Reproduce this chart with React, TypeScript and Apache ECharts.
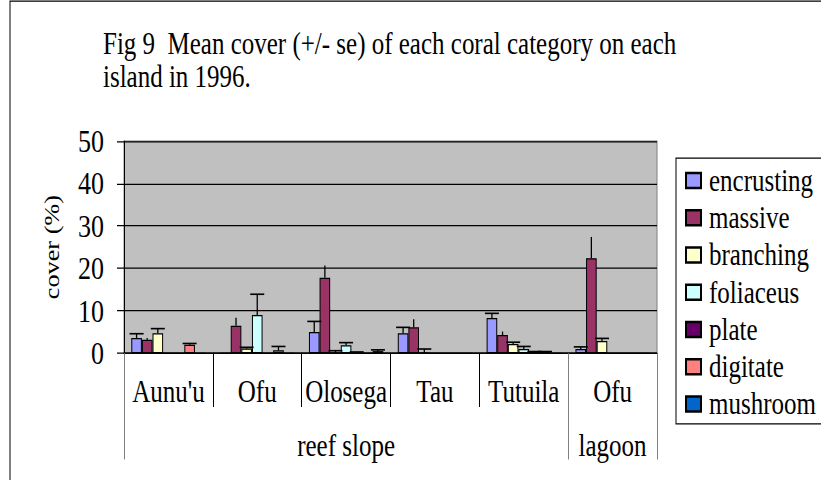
import React, { useEffect, useRef } from "react";
import * as echarts from "echarts";

const islands = ["Aunu'u", "Ofu", "Olosega", "Tau", "Tutuila", "Ofu"];
const groupNames = ["reef slope", "lagoon"];
const groupSizes = [5, 1];
const yTicks = [0, 10, 20, 30, 40, 50];

const categoryNames = ["encrusting", "massive", "branching", "foliaceus", "plate", "digitate", "mushroom"];
const categoryColors = ["#9999FF", "#993366", "#FFFFCC", "#CCFFFF", "#660066", "#FF8080", "#0066CC"];

const encrusting = [3.6, 0, 5.0, 4.7, 8.3, 1.0];
const massive = [3.2, 6.45, 17.8, 6.1, 4.3, 22.4];
const branching = [4.7, 1.1, 0.2, 0.2, 2.2, 2.9];
const foliaceus = [0, 9.0, 1.9, 0, 1.0, 0];
const plate = [0, 0, 0.2, 0, 0.3, 0];
const digitate = [2.0, 0.7, 0, 0, 0.3, 0];
const mushroom = [0, 0, 0.5, 0, 0, 0];

const encrustingSe = [1.0, 0, 2.5, 1.4, 1.1, 0.5];
const massiveSe = [0.4, 1.9, 2.9, 1.9, 0.8, 5.0];
const branchingSe = [1.1, 0.3, 0.4, 0.8, 0.4, 0.6];
const foliaceusSe = [0, 4.9, 0.6, 0, 0.6, 0];
const plateSe = [0, 0, 0.1, 0, 0.1, 0];
const digitateSe = [0.3, 0.9, 0, 0, 0.1, 0];
const mushroomSe = [0, 0, 0.3, 0, 0, 0];

const values = [encrusting, massive, branching, foliaceus, plate, digitate, mushroom];
const errors = [encrustingSe, massiveSe, branchingSe, foliaceusSe, plateSe, digitateSe, mushroomSe];

const SY = 1.25;
const FONT = "'Liberation Serif', 'Times New Roman', serif";
const CAT_GAP = 0.164;

export default function App() {
  const ref = useRef<HTMLDivElement>(null);
  useEffect(() => {
    if (!ref.current) return;
    const chart = echarts.init(ref.current, null, { renderer: "svg" });

    const bounds: number[] = [0];
    groupSizes.forEach((s) => bounds.push(bounds[bounds.length - 1] + s));
    const centers = groupSizes.map((s, i) => bounds[i] + s / 2);

    const errData: number[][] = [];
    values.forEach((arr, si) => {
      arr.forEach((v, ci) => {
        const e = errors[si][ci];
        if (e > 0) errData.push([ci, v, e, si]);
      });
    });

    const barSeries = categoryNames.map((name, si) => ({
      name,
      type: "bar",
      xAxisIndex: 0,
      data: values[si],
      barGap: "0%",
      barCategoryGap: CAT_GAP * 100 + "%",
      itemStyle: { color: categoryColors[si], borderColor: "#000", borderWidth: 1 },
      emphasis: { disabled: true },
    }));

    const option: any = {
      animation: false,
      textStyle: { fontFamily: FONT, color: "#000" },
      title: {
        text: "Fig 9  Mean cover (+/- se) of each coral category on each\nisland in 1996.",
        left: 103,
        top: 21.5,
        padding: 0,
        textStyle: { fontFamily: FONT, fontSize: 25, fontWeight: "normal", color: "#000", lineHeight: 26.4 },
      },
      graphic: [
        {
          type: "rect",
          shape: { x: 10, y: 0.8, width: 900, height: 500 },
          style: { fill: "none", stroke: "#000", lineWidth: 1 },
          silent: true,
          z: -10,
        },
      ],
      legend: {
        orient: "vertical",
        left: 676,
        top: 126.4,
        data: categoryNames,
        icon: "rect",
        itemWidth: 15,
        itemHeight: 12,
        itemGap: 0,
        padding: [3, 14, 1, 9],
        borderColor: "#000",
        borderWidth: 1,
        selectedMode: false,
        textStyle: { fontFamily: FONT, fontSize: 25, fontWeight: "normal", color: "#000", lineHeight: 29.8, padding: [0, 0, 0, 3] },
      },
      grid: {
        left: 124,
        right: 164,
        top: 112.8,
        height: 169.8,
        show: true,
        backgroundColor: "#C0C0C0",
        borderColor: "#808080",
        borderWidth: 1,
      },
      xAxis: [
        {
          type: "category",
          data: islands,
          position: "bottom",
          axisLine: { show: true, lineStyle: { color: "#000", width: 1 } },
          axisTick: { show: true, length: 43, interval: 0, lineStyle: { color: "#000" } },
          axisLabel: { interval: 0, fontFamily: FONT, fontSize: 25, color: "#000", margin: 18, lineHeight: 25 },
          splitLine: { show: false },
        },
        {
          type: "value",
          min: 0,
          max: bounds[bounds.length - 1],
          position: "bottom",
          axisLine: { show: false },
          splitLine: { show: false },
          axisTick: { show: true, length: 85, customValues: bounds, lineStyle: { color: "#808080" } },
          axisLabel: {
            show: true,
            customValues: centers,
            fontFamily: FONT,
            fontSize: 25,
            color: "#000",
            margin: 61,
            lineHeight: 25,
            formatter: (v: number) => {
              const i = centers.findIndex((c) => Math.abs(c - v) < 1e-6);
              return i >= 0 ? groupNames[i] : "";
            },
          },
        },
      ],
      yAxis: {
        type: "value",
        min: yTicks[0],
        max: yTicks[yTicks.length - 1],
        interval: yTicks[1] - yTicks[0],
        name: "cover (%)",
        nameLocation: "middle",
        nameGap: 62,
        nameTextStyle: { fontFamily: FONT, fontSize: 21, fontWeight: "normal", color: "#000" },
        axisLine: { show: true, lineStyle: { color: "#000" } },
        axisTick: { show: true, length: 7, inside: false, lineStyle: { color: "#000" } },
        axisLabel: { fontFamily: FONT, fontSize: 26, fontWeight: "normal", color: "#000", margin: 20 },
        splitLine: { show: true, lineStyle: { color: "#000", width: 1 } },
      },
      series: [
        ...barSeries,
        {
          type: "custom",
          xAxisIndex: 0,
          silent: true,
          z: 10,
          encode: { x: 0, y: 1 },
          data: errData,
          renderItem: (params: any, api: any) => {
            const ci = api.value(0);
            const v = api.value(1);
            const e = api.value(2);
            const si = api.value(3);
            const base = api.coord([ci, v]);
            const top = api.coord([ci, v + e]);
            const band = api.size([1, 0])[0];
            const groupW = band * (1 - CAT_GAP);
            const bw = groupW / categoryNames.length;
            const x = base[0] - groupW / 2 + bw * (si + 0.5);
            const children: any[] = [
              {
                type: "line",
                shape: { x1: x, y1: base[1], x2: x, y2: top[1] },
                style: { stroke: "#000", lineWidth: 1.3 },
              },
            ];
            if (si !== 1) {
              children.push({
                type: "line",
                shape: { x1: x - 7, y1: top[1], x2: x + 7, y2: top[1] },
                style: { stroke: "#000", lineWidth: 1.3 },
              });
            }
            return { type: "group", children };
          },
        },
      ],
    };

    chart.setOption(option);
    return () => chart.dispose();
  }, []);

  return (
    <div
      ref={ref}
      style={{
        position: "fixed",
        left: 0,
        top: 0,
        width: 821,
        height: 480 / SY,
        transform: `scaleY(${SY})`,
        transformOrigin: "0 0",
        background: "#fff",
      }}
    />
  );
}
